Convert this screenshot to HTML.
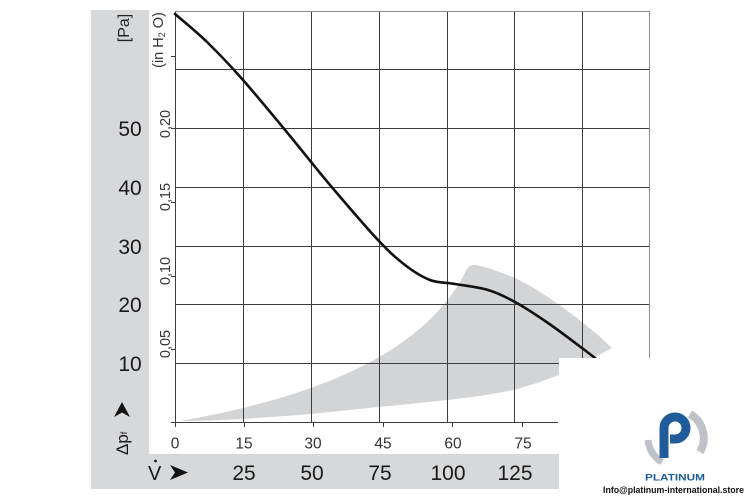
<!DOCTYPE html>
<html>
<head>
<meta charset="utf-8">
<style>
html,body{margin:0;padding:0;background:#fff;}
svg{display:block;}
text{font-family:"Liberation Sans",Arial,sans-serif;}
</style>
</head>
<body>
<svg width="750" height="500" viewBox="0 0 750 500" xmlns="http://www.w3.org/2000/svg">
<rect x="0" y="0" width="750" height="500" fill="#fff"/>
<!-- gray L band -->
<rect x="91" y="10" width="58" height="479" fill="#d7d8da"/>
<rect x="91" y="454" width="468" height="35" fill="#d7d8da"/>

<!-- shaded operating region -->
<path fill="#d3d4d6" d="M180,421 C300,400 420,360 465,273 Q468,264 476,265 L488,268 L500,272 L515,278 L532,287 L548,297 L565,309 L582,322 L598,335 L612,348 L595,357 L578,366 L559,375 L537,383 L514,390 L480,396 L447,400 L410,404 L378,407 L340,411 L300,415 L270,417 L244,419 L210,420.5 Z"/>

<!-- grid -->
<g stroke="#3c3c3c" stroke-width="1" fill="none">
<line x1="243.5" y1="11" x2="243.5" y2="422"/>
<line x1="311.5" y1="11" x2="311.5" y2="422"/>
<line x1="379.5" y1="11" x2="379.5" y2="422"/>
<line x1="447.5" y1="11" x2="447.5" y2="422"/>
<line x1="514.5" y1="11" x2="514.5" y2="422"/>
<line x1="582.5" y1="11" x2="582.5" y2="422"/>
<line x1="175" y1="69.5" x2="650" y2="69.5"/>
<line x1="175" y1="128.5" x2="650" y2="128.5"/>
<line x1="175" y1="187.5" x2="650" y2="187.5"/>
<line x1="175" y1="246.5" x2="650" y2="246.5"/>
<line x1="175" y1="304.5" x2="650" y2="304.5"/>
<line x1="175" y1="363.5" x2="650" y2="363.5"/>
<line x1="171" y1="422.5" x2="558" y2="422.5"/>
<line x1="175.5" y1="11" x2="175.5" y2="427"/>
<!-- bottom ticks -->
<line x1="244.5" y1="422" x2="244.5" y2="427"/>
<line x1="313.5" y1="422" x2="313.5" y2="427"/>
<line x1="383.5" y1="422" x2="383.5" y2="427"/>
<line x1="452.5" y1="422" x2="452.5" y2="427"/>
<line x1="522.5" y1="422" x2="522.5" y2="427"/>
<!-- left in H2O ticks -->
<line x1="171" y1="56.5" x2="175" y2="56.5"/>
<line x1="171" y1="128.5" x2="175" y2="128.5"/>
<line x1="171" y1="202.5" x2="175" y2="202.5"/>
<line x1="171" y1="276.5" x2="175" y2="276.5"/>
<line x1="171" y1="349.5" x2="175" y2="349.5"/>
</g>
<g stroke="#8c8c8c" stroke-width="1" fill="none">
<line x1="175" y1="11.5" x2="650" y2="11.5"/>
<line x1="649.5" y1="11" x2="649.5" y2="360"/>
</g>

<!-- main curve -->
<path fill="none" stroke="#111" stroke-width="2.6" stroke-linecap="round" stroke-linejoin="round"
d="M175,14 C180.3,18.7 195.7,31 207,42 C218.3,53 229.2,64.3 243,80 C256.8,95.7 275.5,118.5 290,136 C304.5,153.5 315.3,167.7 330,185 C344.7,202.3 365.5,226.7 378,240 C390.5,253.3 396.3,258.3 405,265 C413.7,271.7 421.7,276.8 430,280 C438.3,283.2 445.3,282.3 455,284 C464.7,285.7 478,287 488,290 C498,293 505,296.5 515,302 C525,307.5 536.8,315.3 548,323 C559.2,330.7 573.3,341.5 582,348 C590.7,354.5 597,359.7 600,362"/>

<!-- white logo patch -->
<rect x="559" y="358" width="191" height="142" fill="#fff"/>

<!-- left gray labels -->
<g font-size="21" fill="#1a1a1a" text-anchor="middle">
<text x="130" y="136">50</text>
<text x="130" y="195">40</text>
<text x="130" y="254">30</text>
<text x="130" y="312">20</text>
<text x="130" y="371">10</text>
</g>
<text transform="translate(129,28) rotate(-90)" font-size="16" fill="#222" text-anchor="middle">[Pa]</text>

<!-- Δpf arrow -->
<text transform="translate(128,455) rotate(-90)" font-size="17" fill="#1a1a1a">Δp<tspan font-size="9" dy="-1">f</tspan></text>
<path fill="#111" d="M122,402 L130,417 L122,412.5 L114,417 Z"/>

<!-- in H2O labels -->
<g font-size="14.5" fill="#333" text-anchor="middle">
<text transform="translate(163,40) rotate(-90)">(in H<tspan font-size="9" dy="2">2</tspan><tspan dy="-2"> O)</tspan></text>
<text transform="translate(170,124) rotate(-90)">0,20</text>
<text transform="translate(170,197) rotate(-90)">0,15</text>
<text transform="translate(170,271) rotate(-90)">0,10</text>
<text transform="translate(170,344) rotate(-90)">0,05</text>
</g>

<!-- bottom tick labels -->
<g font-size="15.5" fill="#333" text-anchor="middle">
<text x="175" y="448.5">0</text>
<text x="244" y="448.5">15</text>
<text x="313" y="448.5">30</text>
<text x="383" y="448.5">45</text>
<text x="453" y="448.5">60</text>
<text x="523" y="448.5">75</text>
</g>

<!-- bottom band -->
<text x="148" y="480" font-size="20" fill="#1a1a1a">V</text>
<circle cx="155.5" cy="461" r="1.4" fill="#1a1a1a"/>
<path fill="#111" d="M170,465 L188,472.5 L170,480 L175,472.5 Z"/>
<g font-size="21" fill="#1a1a1a" text-anchor="middle">
<text x="244" y="480">25</text>
<text x="312" y="480">50</text>
<text x="380" y="480">75</text>
<text x="448" y="480">100</text>
<text x="515" y="480">125</text>
</g>

<!-- logo -->
<g fill="none">
<path d="M690,414 A28,28 0 0 1 700,452" stroke="#bfc2c6" stroke-width="8"/>
<path d="M648,440 A28,28 0 0 0 662,462" stroke="#bfc2c6" stroke-width="7"/>
<path d="M664,458 L664,428 A11,11 0 1 1 675,439 L670,439" stroke="#1f5c99" stroke-width="9"/>
</g>
<text x="645" y="480.5" font-size="9" font-weight="bold" fill="#1f5c99" textLength="60" lengthAdjust="spacingAndGlyphs">PLATINUM</text>
<text x="603" y="493" font-size="9" font-weight="bold" fill="#111" textLength="141" lengthAdjust="spacingAndGlyphs">Info@platinum-international.store</text>
</svg>
</body>
</html>
